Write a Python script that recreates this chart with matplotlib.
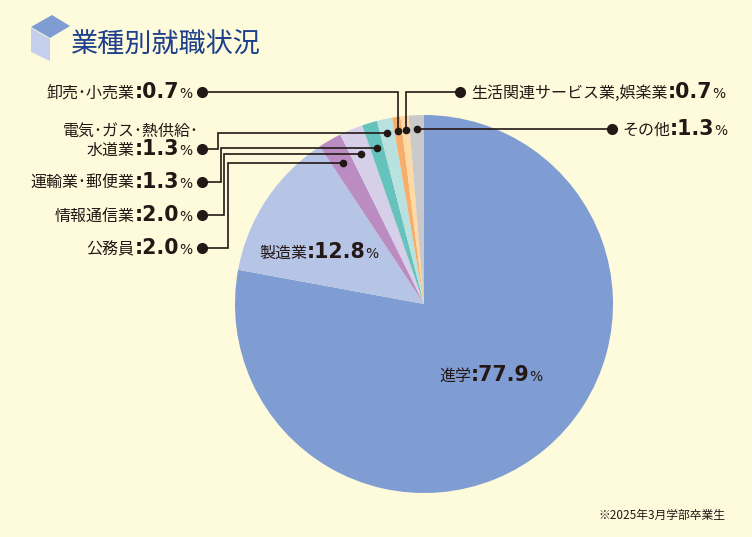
import matplotlib
matplotlib.use('Agg')
import matplotlib.pyplot as plt
import numpy as np
from matplotlib.patches import Polygon

# data (clockwise from 12 o'clock)
categories = ['進学', '製造業', '公務員', '情報通信業', '運輸業・郵便業',
              '電気・ガス・熱供給・水道業', '卸売・小売業',
              '生活関連サービス業,娯楽業', 'その他']
shares = [77.9, 12.8, 2.0, 2.0, 1.3, 1.3, 0.7, 0.7, 1.3]
colors = ['#7f9dd2', '#b6c4e6', '#bb8cc1', '#d5cfea', '#66c2bc',
          '#b8e1e0', '#f5ae6b', '#fdd9a6', '#c9c9c9']

title = '業種別就職状況'
note = '※2025年3月学部卒業生'

W, H = 752, 537
BG = '#fefbdc'
INK = '#231815'
JP = ['Noto Sans CJK JP', 'DejaVu Sans']
NUM = ['DejaVu Sans']


def Y(y):
    # image pixel row -> axes y
    return H - y


fig = plt.figure(figsize=(W / 100, H / 100), dpi=100, facecolor=BG)
ax = fig.add_axes([0, 0, 1, 1])

wedges, _ = ax.pie(shares, colors=colors, startangle=90, counterclock=False,
                   center=(424, Y(304)), radius=189,
                   wedgeprops=dict(linewidth=0))
ax.set_xlim(0, W)
ax.set_ylim(0, H)
ax.set_aspect('equal')
ax.axis('off')

renderer = fig.canvas.get_renderer()


def rich(x, y, parts, ha='left'):
    arts = []
    for s, fs, fw, fam in parts:
        arts.append(ax.text(0, y, s, fontsize=fs, fontweight=fw, family=fam,
                            color=INK, va='baseline', ha='left', zorder=5))
    widths = [a.get_window_extent(renderer).width for a in arts]
    pos = x if ha == 'left' else x - sum(widths)
    for a, w in zip(arts, widths):
        a.set_x(pos)
        pos += w


def parts_for(i, name=None):
    if name is None:
        name = categories[i].replace('・', '･')
    return [(name, 11.5, 'normal', JP),
            (':' + f'{shares[i]:.1f}', 14.8, 'bold', NUM),
            ('%', 10, 'normal', NUM)]


def anchor(i, frac):
    w = wedges[i]
    th = np.deg2rad((w.theta1 + w.theta2) / 2)
    return (w.center[0] + frac * w.r * np.cos(th),
            w.center[1] + frac * w.r * np.sin(th))


def leader(pts, a, end):
    ax.plot([p[0] for p in pts], [p[1] for p in pts], color=INK, lw=1.2,
            solid_joinstyle='miter', zorder=4)
    ax.plot(*a, 'o', color=INK, ms=4.5, zorder=5)
    ax.plot(*end, 'o', color=INK, ms=7, zorder=5)


# top-left: 卸売・小売業
a = anchor(6, 0.926)
L = (202, Y(92))
leader([L, (a[0], L[1]), a], a, L)
rich(192, Y(98), parts_for(6), ha='right')

# top-right: 生活関連サービス業,娯楽業
a = anchor(7, 0.926)
R = (460, Y(92))
leader([R, (a[0], R[1]), a], a, R)
rich(471, Y(98), parts_for(7))

# その他
a = anchor(8, 0.926)
R = (612, a[1])
leader([a, R], a, R)
rich(622, a[1] - 6, parts_for(8))

# left labels with elbows
for i, ly, vx, frac in [(5, 149, 218, 0.926), (4, 182, 221, 0.86),
                        (3, 215, 224, 0.86), (2, 248, 228, 0.86)]:
    a = anchor(i, frac)
    L = (202, Y(ly))
    leader([L, (vx, L[1]), (vx, a[1]), a], a, L)
    if i == 5:
        ax.text(199, Y(136), '電気･ガス･熱供給･', fontsize=11.5, family=JP,
                color=INK, va='baseline', ha='right')
        rich(192, Y(ly + 6), parts_for(i, '水道業'), ha='right')
    else:
        rich(192, Y(ly + 6), parts_for(i), ha='right')

# labels inside the pie
rich(259, Y(258), parts_for(1))
rich(439, Y(381), parts_for(0))

# title + icon
ax.add_patch(Polygon([(31, Y(27)), (52, Y(15)), (70, Y(26)), (50, Y(38))],
                     closed=True, color='#7f9cd3', lw=0))
ax.add_patch(Polygon([(31, Y(28)), (50, Y(39)), (50, Y(61)), (31, Y(52))],
                     closed=True, color='#c3cfec', lw=0))
ax.text(71, Y(45), title, fontsize=19.5, family=JP, color='#1d3f8c',
        va='center', ha='left')

ax.text(598, Y(515), note, fontsize=8.5, family=JP, color=INK,
        va='center', ha='left')

fig.savefig('out.png', dpi=100, facecolor=BG)
